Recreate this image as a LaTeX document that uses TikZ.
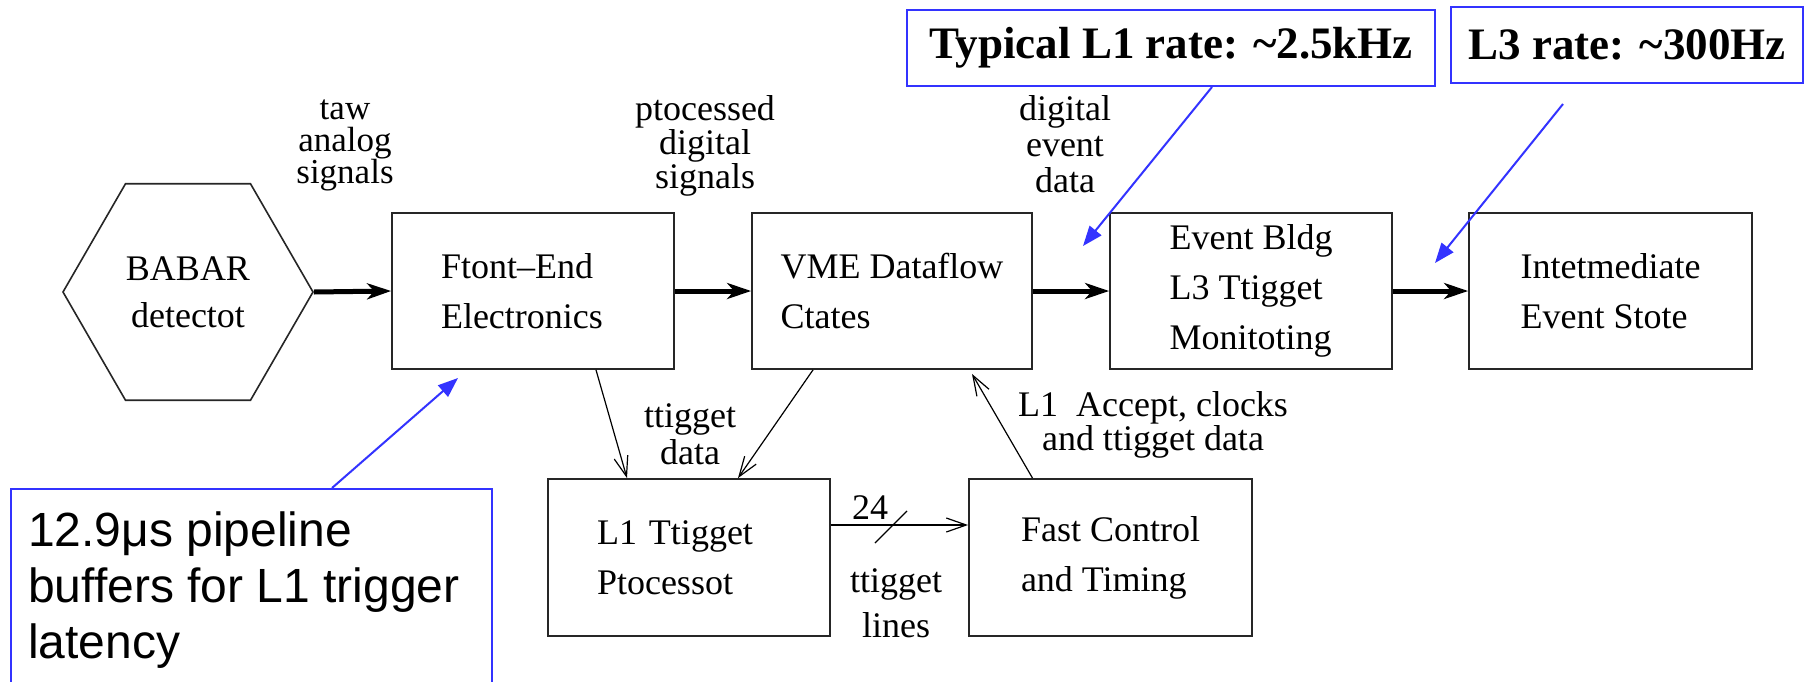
\documentclass[tikz,border=0pt]{standalone}
\usepackage{fontspec}
\setmainfont{Liberation Serif}
\newfontfamily\sansf{Liberation Sans}
\usetikzlibrary{arrows.meta,shapes.geometric}
\definecolor{cblue}{RGB}{51,51,255}
\tikzset{
  blk/.style={draw=black!85, line width=1.8pt, minimum height=156pt, align=left, inner ysep=0pt,
    font=\fontsize{36}{50}\selectfont},
  hexa/.style={draw=black!85, line width=1.6pt, regular polygon, regular polygon sides=6,
    minimum size=250pt, align=center, inner sep=0pt, font=\fontsize{36}{47}\selectfont},
  fatarr/.style={line width=5pt, -{Stealth[length=24pt,width=16pt,inset=7pt]}},
  thinarr/.style={line width=1.2pt, -{Straight Barb[length=20pt,width=14pt,line width=1.2pt]}},
  callout/.style={draw=cblue, line width=2pt, minimum height=76pt, inner sep=0pt,
    font=\bfseries\fontsize{45}{50}\selectfont},
  bluearr/.style={draw=cblue, line width=2pt, -{Triangle[length=20pt,width=15pt]}},
  lbl/.style={align=center, inner sep=0pt},
}
\begin{document}
\begin{tikzpicture}[x=1pt,y=-1pt]
\clip (0,0) rectangle (1805,681);
\fill[white] (0,0) rectangle (1805,681);

% main row
\node[hexa] (babar) at (188,292) {BABAR\\detectot};
\node[blk, text width=184pt, inner xsep=49pt] (fe) at (533,291) {Ftont–End\\Electronics};
\node[blk, minimum width=280pt] (vme) at (892,291) {VME Dataflow\\Ctates};
\node[blk, minimum width=282pt] (eb) at (1251,291) {Event Bldg\\L3 Ttigget\\Monitoting};
\node[blk, minimum width=283pt] (ies) at (1610.5,291) {Intetmediate\\Event Stote};

% lower row
\node[blk, text width=184pt, inner xsep=49pt, minimum height=157pt] (l1) at (689,557.5) {L1 Ttigget\\Ptocessot};
\node[blk, minimum width=283pt, minimum height=157pt] (fct) at (1110.5,557.5) {Fast Control\\and Timing};

% labels
\node[lbl, font=\fontsize{35}{32}\selectfont] (lraw) at (345,145) {taw\\analog\\signals};
\node[lbl, font=\fontsize{36}{34}\selectfont] (lproc) at (705,146) {ptocessed\\digital\\signals};
\node[lbl, font=\fontsize{36}{36}\selectfont] (ldig) at (1065,144) {digital\\event\\data};
\node[lbl, font=\fontsize{36}{37}\selectfont] (ltrig) at (690,434) {ttigget\\data};
\node[lbl, font=\fontsize{36}{32}\selectfont] (lacc) at (1153,425) {L1\ \ Accept, clocks\\and ttigget data};
\node[lbl, font=\fontsize{36}{45}\selectfont] (llines) at (896,603) {ttigget\\lines};
\node[lbl, font=\fontsize{36}{40}\selectfont] (l24) at (870,508) {24};

% thick data-flow arrows
\draw[fatarr] (babar.east) -- (fe.west);
\draw[fatarr] (fe.east) -- (vme.west);
\draw[fatarr] (vme.east) -- (eb.west);
\draw[fatarr] (eb.east) -- (ies.west);

% thin arrows
\draw[thinarr] ([xshift=63pt]fe.south) -- ([xshift=-62pt]l1.north);
\draw[thinarr] ([xshift=-79pt]vme.south) -- ([xshift=49pt]l1.north);
\draw[thinarr] ([xshift=-78pt]fct.north) -- ([xshift=80pt,yshift=-4pt]vme.south);
\draw[thinarr] ([yshift=32.5pt]l1.east) -- ([yshift=32.5pt]fct.west);
\coordinate (sla) at (875,543);
\coordinate (slb) at (907,511);
\draw[line width=1.2pt] (sla) -- (slb);

% callouts
\node[callout, minimum width=528pt] (l1rate) at (1171,48) {Typical L1 rate: \textasciitilde2.5kHz};
\node[callout, minimum width=352pt] (l3rate) at (1627,45) {L3 rate: \textasciitilde300Hz};
\node[draw=cblue, line width=2pt, minimum width=481pt, minimum height=240pt, anchor=north west, inner sep=0pt] (pipebox) at (10,488) {};
\node[anchor=north west, align=left, inner sep=0pt, font=\sansf\fontsize{48}{56}\selectfont] (pipetext) at (28,512)
  {12.9μs pipeline\\buffers for L1 trigger\\latency};

\coordinate (t1) at (1083,246);
\coordinate (t2) at (1435,263);
\coordinate (t3) at (458,378);
\draw[bluearr] ([xshift=41pt]l1rate.south) -- (t1);
\draw[bluearr] ([xshift=-64pt,yshift=-20pt]l3rate.south) -- (t2);
\draw[bluearr] ([xshift=80.5pt]pipebox.north) -- (t3);
\end{tikzpicture}
\end{document}
